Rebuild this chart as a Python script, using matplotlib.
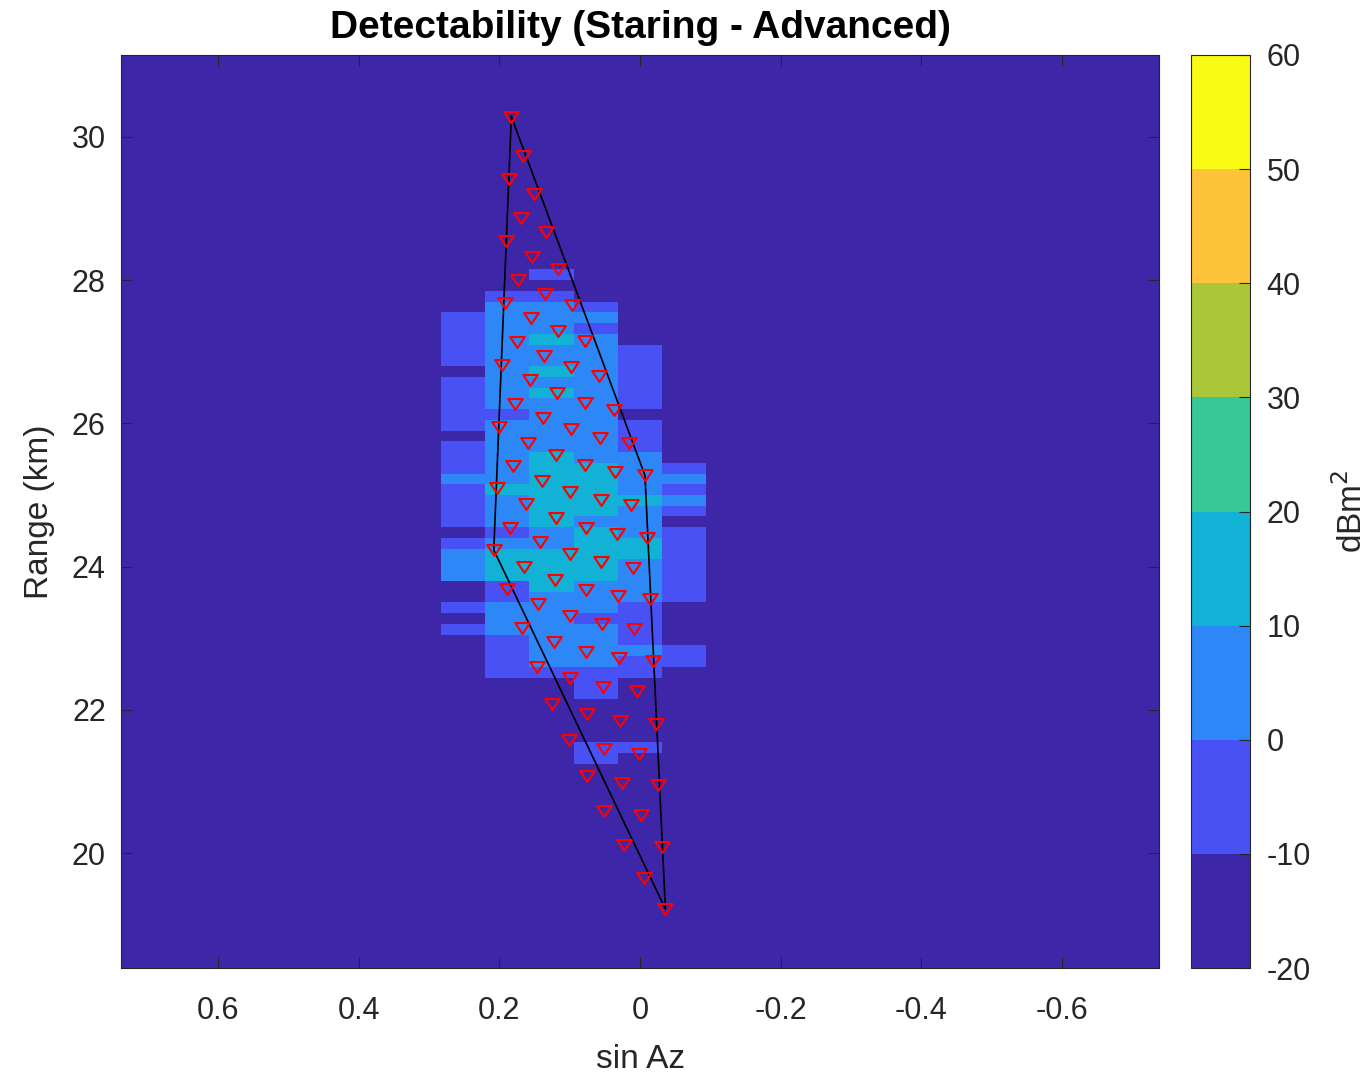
import numpy as np
import matplotlib
matplotlib.use("Agg")
import matplotlib.pyplot as plt
from matplotlib.colors import ListedColormap, BoundaryNorm
from matplotlib.path import Path

plt.rcParams['font.family'] = ['Liberation Sans', 'DejaVu Sans']
plt.rcParams['axes.unicode_minus'] = False

# parula(8), MATLAB style
parula8 = ['#3e26a8', '#4852f4', '#2d87f7', '#12b1d6',
           '#37c897', '#abc739', '#fec338', '#f9fb14']
levels = [-20, -10, 0, 10, 20, 30, 40, 50, 60]

# cell edges of the detectability grid
az_edges = [0.2834, 0.2206, 0.1578, 0.0940, 0.0310, -0.0318, -0.0944]
range_edges = [28.15, 28.00, 27.85, 27.70, 27.55, 27.40, 27.25, 27.10, 26.95,
               26.80, 26.65, 26.50, 26.35, 26.20, 26.05, 25.90, 25.75, 25.60,
               25.45, 25.30, 25.15, 25.00, 24.85, 24.70, 24.55, 24.40, 24.25,
               24.10, 23.95, 23.80, 23.65, 23.50, 23.35, 23.20, 23.05, 22.90,
               22.75, 22.60, 22.45, 22.30, 22.15, 22.00, 21.85, 21.70, 21.55,
               21.40, 21.25]

# detectability (dBm^2), one row per range cell, top to bottom
det_db = [
    [-15, -15,  -5, -15, -15, -15],
    [-15, -15, -15, -15, -15, -15],
    [-15,  -5,  -5, -15, -15, -15],
    [-15,   5,   5,  -5, -15, -15],
    [ -5,   5,   5,   5, -15, -15],
    [ -5,   5,   5,  -5, -15, -15],
    [ -5,   5,  15,   5, -15, -15],
    [ -5,   5,   5,   5,  -5, -15],
    [ -5,   5,   5,   5,  -5, -15],
    [-15,   5,  15,   5,  -5, -15],
    [ -5,   5,   5,   5,  -5, -15],
    [ -5,   5,  15,   5,  -5, -15],
    [ -5,   5,   5,   5,  -5, -15],
    [ -5,  -5,   5,   5, -15, -15],
    [ -5,   5,   5,   5,  -5, -15],
    [-15,   5,   5,   5,  -5, -15],
    [ -5,   5,   5,   5,  -5, -15],
    [ -5,   5,  15,   5,   5, -15],
    [ -5,   5,  15,  15,   5,  -5],
    [  5,   5,  15,  15,   5,   5],
    [ -5,  15,  15,  15,   5,  -5],
    [ -5,   5,  15,  15,  15,   5],
    [ -5,   5,  15,  15,   5,  -5],
    [ -5,   5,  15,   5,   5, -15],
    [-15,  -5,   5,  15,   5,  -5],
    [ -5,   5,   5,  15,  15,  -5],
    [  5,  15,  15,  15,  15,  -5],
    [  5,  15,  15,  15,   5,  -5],
    [  5,  15,  15,  15,   5,  -5],
    [-15,  -5,  15,   5,   5,  -5],
    [-15,  -5,   5,   5,   5,  -5],
    [ -5,   5,   5,   5,  -5, -15],
    [-15,   5,   5,  -5,  -5, -15],
    [ -5,   5,   5,   5,  -5, -15],
    [-15,  -5,   5,   5,  -5, -15],
    [-15,  -5,   5,   5,   5,  -5],
    [-15,  -5,   5,   5,  -5,  -5],
    [-15,  -5,  -5,  -5,  -5, -15],
    [-15, -15, -15,  -5, -15, -15],
    [-15, -15, -15,  -5, -15, -15],
    [-15, -15, -15, -15, -15, -15],
    [-15, -15, -15, -15, -15, -15],
    [-15, -15, -15, -15, -15, -15],
    [-15, -15, -15, -15, -15, -15],
    [-15, -15, -15,  -5,  -5, -15],
    [-15, -15, -15,  -5, -15, -15],
]

# target positions (sin Az, range km)
tgt_az = [0.183, 0.167, 0.186, 0.151, 0.170, 0.134, 0.190, 0.153, 0.116, 0.173,
          0.135, 0.192, 0.097, 0.155, 0.117, 0.175, 0.078, 0.137, 0.196, 0.098,
          0.157, 0.058, 0.118, 0.178, 0.078, 0.037, 0.138, 0.200, 0.098, 0.160,
          0.057, 0.016, 0.119, 0.181, 0.078, 0.036, -0.007, 0.140, 0.204, 0.099,
          0.056, 0.162, 0.013, 0.120, 0.077, 0.185, 0.033, -0.010, 0.142, 0.208,
          0.099, 0.055, 0.165, 0.010, 0.121, 0.189, 0.077, 0.032, -0.014, 0.145,
          0.100, 0.054, 0.168, 0.008, 0.123, 0.077, 0.030, -0.018, 0.147, 0.100,
          0.053, 0.005, 0.125, 0.076, 0.028, -0.022, 0.101, 0.051, 0.001, 0.076,
          0.025, -0.026, 0.051, -0.002, 0.023, -0.031, -0.006, -0.036]
tgt_rng = [30.284, 29.735, 29.409, 29.200, 28.865, 28.673, 28.547, 28.324, 28.152, 28.003,
           27.807, 27.686, 27.650, 27.468, 27.291, 27.137, 27.151, 26.941, 26.820, 26.784,
           26.606, 26.662, 26.420, 26.271, 26.281, 26.187, 26.071, 25.954, 25.918, 25.730,
           25.792, 25.722, 25.554, 25.405, 25.415, 25.317, 25.275, 25.200, 25.094, 25.038,
           24.926, 24.870, 24.860, 24.683, 24.543, 24.543, 24.451, 24.404, 24.339, 24.232,
           24.172, 24.060, 24.001, 23.987, 23.813, 23.683, 23.673, 23.589, 23.543, 23.473,
           23.310, 23.194, 23.138, 23.124, 22.951, 22.812, 22.723, 22.677, 22.602, 22.440,
           22.323, 22.258, 22.081, 21.941, 21.837, 21.809, 21.574, 21.457, 21.387, 21.071,
           20.978, 20.950, 20.582, 20.527, 20.112, 20.088, 19.655, 19.222]

# coverage outline
hull_az = [0.183, -0.007, -0.036, 0.208, 0.183]
hull_rng = [30.284, 25.275, 19.222, 24.232, 30.284]

txt = '#262626'
cmap = ListedColormap(parula8)
norm = BoundaryNorm(levels, cmap.N)

fig = plt.figure(figsize=(13.71, 10.78), dpi=100)
ax = fig.add_axes([0.0883, 0.1020, 0.7571, 0.8470])
cax = fig.add_axes([0.8687, 0.1020, 0.0430, 0.8470])

ax.set_facecolor(parula8[0])
mesh = ax.pcolormesh(az_edges, range_edges, np.array(det_db), cmap=cmap, norm=norm)

# MATLAB-like 'v' marker (wider than tall), closed
tri = Path([(-1, 0.75), (1, 0.75), (0, -0.75), (-1, 0.75)],
           [Path.MOVETO, Path.LINETO, Path.LINETO, Path.CLOSEPOLY])
ax.plot(hull_az, hull_rng, color='k', lw=1.2, zorder=3)
ax.plot(tgt_az, tgt_rng, ls='none', marker=tri, ms=10.5, mfc='none',
        mec='#ff0000', mew=1.5, zorder=4)

ax.set_xlim(0.738, -0.738)
ax.set_ylim(18.394, 31.145)
ax.set_xticks([0.6, 0.4, 0.2, 0, -0.2, -0.4, -0.6])
ax.set_xticklabels(['0.6', '0.4', '0.2', '0', '-0.2', '-0.4', '-0.6'])
ax.set_yticks([20, 22, 24, 26, 28, 30])
ax.tick_params(direction='in', length=8, width=0.8, top=True, right=True,
               labelsize=22, colors=txt)
ax.tick_params(axis='x', pad=20)
ax.tick_params(axis='y', pad=11)
for s in ax.spines.values():
    s.set_color(txt)
    s.set_linewidth(0.8)
ax.set_xlabel('sin Az', fontsize=24, color=txt, labelpad=13)
ax.set_ylabel('Range (km)', fontsize=24, color=txt, labelpad=12)
ax.set_title('Detectability (Staring - Advanced)', fontsize=28, fontweight='bold',
             color='k', pad=12)

cb = fig.colorbar(mesh, cax=cax, ticks=levels)
cb.ax.tick_params(direction='in', length=8, width=0.8, labelsize=22, colors=txt, pad=12)
cb.outline.set_edgecolor(txt)
cb.outline.set_linewidth(0.8)
cb.set_label('dBm$^2$', fontsize=24, color=txt, rotation=90)
cb.ax.yaxis.set_label_coords(2.72, 0.5)
cb.ax.yaxis.label.set_verticalalignment('center')

fig.savefig('out.png', dpi=100)
